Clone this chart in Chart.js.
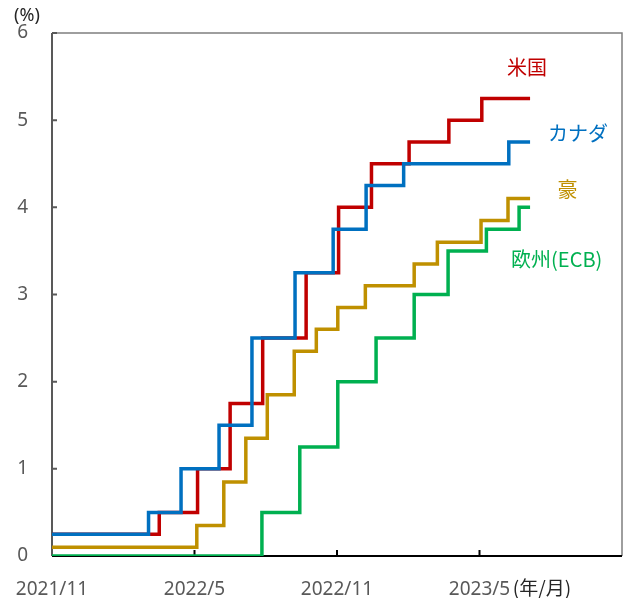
<!DOCTYPE html>
<html>
<head>
<meta charset="utf-8">
<script src="https://cdn.jsdelivr.net/npm/chart.js@4"></script>
<style>
  html, body { margin: 0; padding: 0; background: #fff; }
  #wrap { width: 628px; height: 598px; }
</style>
</head>
<body>
<div id="wrap"><canvas id="chart" width="628" height="598"></canvas></div>
<script>
// policy rate change dates and levels (%)
const endDate = '2023-07-05';

const usDates = ['2021-11-01', '2022-03-17', '2022-05-05', '2022-06-16', '2022-07-28', '2022-09-22', '2022-11-03', '2022-12-15', '2023-02-02', '2023-03-23', '2023-05-04'];
const usRates = [0.25, 0.5, 1.0, 1.75, 2.5, 3.25, 4.0, 4.5, 4.75, 5.0, 5.25];

const caDates = ['2021-11-01', '2022-03-03', '2022-04-14', '2022-06-02', '2022-07-14', '2022-09-08', '2022-10-27', '2022-12-08', '2023-01-26', '2023-06-08'];
const caRates = [0.25, 0.5, 1.0, 1.5, 2.5, 3.25, 3.75, 4.25, 4.5, 4.75];

const auDates = ['2021-11-01', '2022-05-04', '2022-06-08', '2022-07-06', '2022-08-03', '2022-09-07', '2022-10-05', '2022-11-02', '2022-12-07', '2023-02-08', '2023-03-08', '2023-05-03', '2023-06-07'];
const auRates = [0.1, 0.35, 0.85, 1.35, 1.85, 2.35, 2.6, 2.85, 3.1, 3.35, 3.6, 3.85, 4.1];

const ecbDates = ['2021-11-01', '2022-07-27', '2022-09-14', '2022-11-02', '2022-12-21', '2023-02-08', '2023-03-22', '2023-05-10', '2023-06-21'];
const ecbRates = [0, 0.5, 1.25, 2.0, 2.5, 3.0, 3.5, 3.75, 4.0];

const xTickLabels = ['2021/11', '2022/5', '2022/11', '2023/5', ''];
const yTicks = [0, 1, 2, 3, 4, 5, 6];

const seriesNames = ['米国', 'カナダ', '豪', '欧州(ECB)'];
const seriesColors = ['#C00000', '#0070C0', '#BF9000', '#00B050'];

// months elapsed since 2021/11/1
let toMonths = (s) => {
    let p = s.split('-').map(Number);
    let dim = new Date(p[0], p[1], 0).getDate();
    return (p[0] - 2021) * 12 + (p[1] - 11) + (p[2] - 1) / dim;
};

let makePoints = (dates, rates) => {
    let pts = dates.map((d, i) => ({x: toMonths(d), y: rates[i]}));
    pts.push({x: toMonths(endDate), y: rates[rates.length - 1]});
    return pts;
};

const FONT = "'Noto Sans', 'Noto Sans CJK JP', sans-serif";
const JP = "'Noto Sans CJK JP', sans-serif";

// frame + inward tick marks, drawn under the lines
const framePlugin = {
    id: 'frame',
    beforeDatasetsDraw(chart) {
        let {ctx, chartArea: a, scales} = chart;
        ctx.save();
        ctx.strokeStyle = '#7F7F7F';
        ctx.lineWidth = 1.5;
        ctx.beginPath();
        ctx.moveTo(a.left, a.top); ctx.lineTo(a.right, a.top); ctx.lineTo(a.right, a.bottom);
        ctx.stroke();

        ctx.strokeStyle = '#595959';
        ctx.lineWidth = 2;
        ctx.beginPath();
        ctx.moveTo(a.left, a.top); ctx.lineTo(a.left, a.bottom);
        yTicks.forEach(v => {
            let y = scales.y.getPixelForValue(v);
            ctx.moveTo(a.left, y); ctx.lineTo(a.left + 5, y);
        });
        ctx.stroke();

        ctx.strokeStyle = '#000';
        ctx.beginPath();
        ctx.moveTo(a.left, a.bottom); ctx.lineTo(a.right, a.bottom);
        [6, 12, 18].forEach(v => {
            let x = scales.x.getPixelForValue(v);
            ctx.moveTo(x, a.bottom); ctx.lineTo(x, a.bottom - 6);
        });
        ctx.stroke();
        ctx.restore();
    },
    afterDraw(chart) {
        let {ctx, scales} = chart;
        ctx.save();
        ctx.textAlign = 'center';
        ctx.textBaseline = 'middle';
        // series names next to the line ends
        let spots = [[20.0, 5.6], [22.15, 4.85], [21.7, 4.2], [21.25, 3.4]];
        ctx.font = "20px " + JP;
        seriesNames.forEach((n, i) => {
            ctx.fillStyle = seriesColors[i];
            ctx.fillText(n, scales.x.getPixelForValue(spots[i][0]), scales.y.getPixelForValue(spots[i][1]));
        });
        ctx.fillStyle = '#262626';
        ctx.font = "18px " + FONT;
        ctx.fillText('(%)', 27, 16);
        ctx.font = "19px " + JP;
        ctx.fillText('(年/月)', 542, 588);
        ctx.restore();
    }
};

let ds = (i, dates, rates) => ({
    label: seriesNames[i],
    data: makePoints(dates, rates),
    borderColor: seriesColors[i],
    backgroundColor: seriesColors[i],
    borderWidth: 3.5,
    pointRadius: 0,
    stepped: true,
    fill: false
});

new Chart(document.querySelector('#chart'), {
    type: 'line',
    data: {
        // first dataset is drawn on top
        datasets: [
            ds(1, caDates, caRates),
            ds(0, usDates, usRates),
            ds(2, auDates, auRates),
            ds(3, ecbDates, ecbRates)
        ]
    },
    options: {
        responsive: false,
        animation: false,
        layout: {padding: {left: 0, right: 6, top: 33, bottom: 0}},
        plugins: {legend: {display: false}, tooltip: {enabled: false}},
        scales: {
            x: {
                type: 'linear', min: 0, max: 24,
                grid: {display: false}, border: {display: false},
                afterFit: (s) => { s.height = 42; s.paddingLeft = 0; s.paddingRight = 0; },
                ticks: {
                    stepSize: 6, padding: 14, maxRotation: 0, autoSkip: false,
                    color: '#595959', font: {size: 19, family: FONT},
                    callback: (v) => xTickLabels[v / 6]
                }
            },
            y: {
                min: 0, max: 6,
                grid: {display: false}, border: {display: false},
                afterFit: (s) => { s.width = 52; },
                ticks: {
                    stepSize: 1, padding: 16,
                    color: '#595959', font: {size: 19, family: FONT}
                }
            }
        }
    },
    plugins: [framePlugin]
});
</script>
</body>
</html>
